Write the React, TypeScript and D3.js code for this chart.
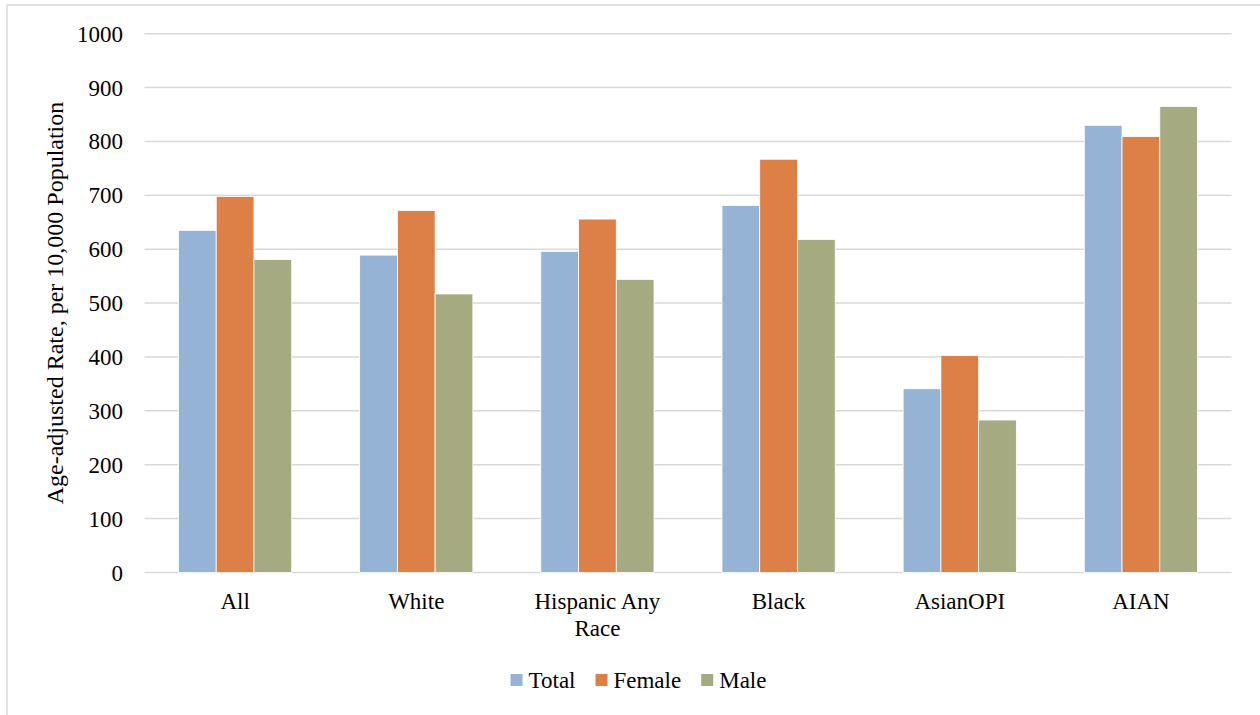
import React, { useEffect, useRef } from "react";
import * as d3 from "d3";

const categories = ["All", "White", "Hispanic Any Race", "Black", "AsianOPI", "AIAN"];
const seriesNames = ["Total", "Female", "Male"];
const totalValues = [635, 589, 596, 681, 341, 830];
const femaleValues = [698, 672, 656, 767, 403, 809];
const maleValues = [581, 517, 544, 618, 283, 865];
const yTicks = [0, 100, 200, 300, 400, 500, 600, 700, 800, 900, 1000];
const colors = ["#95B3D4", "#DD8047", "#A5AA80"];
const yTitle = "Age-adjusted Rate, per 10,000 Population";

const W = 1260;
const H = 715;
const FONT = "'Liberation Serif', 'Times New Roman', serif";

export default function App() {
  const ref = useRef<SVGSVGElement | null>(null);

  useEffect(() => {
    const svg = d3.select(ref.current);
    svg.selectAll("*").remove();

    const left = 144.5, right = 1231.5, top = 33.7, bottom = 572.5;
    const seriesValues = [totalValues, femaleValues, maleValues];

    // outer frame
    svg.append("rect")
      .attr("x", 7).attr("y", 5).attr("width", W + 20).attr("height", H + 20)
      .attr("fill", "white").attr("stroke", "#d9d9d9").attr("stroke-width", 1.5);

    const y = d3.scaleLinear().domain([0, 1000]).range([bottom, top]);
    const x0 = d3.scaleBand<string>().domain(categories).range([left, right]).padding(0);
    const groupW = x0.bandwidth() * 0.625;
    const x1 = d3.scaleBand<string>().domain(seriesNames).range([0, groupW]).padding(0);

    // gridlines
    svg.append("g").selectAll("line").data(yTicks).join("line")
      .attr("x1", left).attr("x2", right)
      .attr("y1", (d) => y(d)).attr("y2", (d) => y(d))
      .attr("stroke", "#d9d9d9").attr("stroke-width", 1.5);

    // tick labels
    svg.append("g").selectAll("text").data(yTicks).join("text")
      .attr("x", 123).attr("y", (d) => y(d) + 8)
      .attr("text-anchor", "end")
      .attr("font-family", FONT).attr("font-size", 23).attr("fill", "#000")
      .text((d) => String(d));

    // bars
    const gBars = svg.append("g");
    categories.forEach((c, ci) => {
      const gx = (x0(c) as number) + (x0.bandwidth() - groupW) / 2;
      seriesNames.forEach((s, si) => {
        const v = seriesValues[si][ci];
        gBars.append("rect")
          .attr("x", gx + (x1(s) as number))
          .attr("y", y(v))
          .attr("width", x1.bandwidth())
          .attr("height", y(0) - y(v))
          .attr("fill", colors[si])
          .attr("stroke", "#ffffff").attr("stroke-width", 0.8);
      });
    });

    // category labels with wrapping
    const maxW = x0.bandwidth() * 0.85;
    const gCat = svg.append("g");
    categories.forEach((c) => {
      const cx = (x0(c) as number) + x0.bandwidth() / 2;
      const t = gCat.append("text")
        .attr("x", cx).attr("y", 609)
        .attr("text-anchor", "middle")
        .attr("font-family", FONT).attr("font-size", 23).attr("fill", "#000");
      const words = c.split(" ");
      let line: string[] = [];
      let lineNo = 0;
      let tspan = t.append("tspan").attr("x", cx).attr("dy", 0);
      words.forEach((w) => {
        line.push(w);
        tspan.text(line.join(" "));
        const node = tspan.node() as SVGTextContentElement;
        if (node.getComputedTextLength() > maxW && line.length > 1) {
          line.pop();
          tspan.text(line.join(" "));
          line = [w];
          lineNo++;
          tspan = t.append("tspan").attr("x", cx).attr("dy", 27).text(w);
        }
      });
    });

    // y title
    svg.append("text")
      .attr("transform", `translate(63, 303) rotate(-90)`)
      .attr("text-anchor", "middle")
      .attr("font-family", FONT).attr("font-size", 24).attr("fill", "#000")
      .text(yTitle);

    // legend
    const gLeg = svg.append("g");
    const sq = 12, gapText = 6, gapItem = 20;
    const items = seriesNames.map((s, i) => {
      const g = gLeg.append("g");
      g.append("rect").attr("x", 0).attr("y", -sq / 2).attr("width", sq).attr("height", sq).attr("fill", colors[i]);
      const tx = g.append("text").attr("x", sq + gapText).attr("y", 8)
        .attr("font-family", FONT).attr("font-size", 23).attr("fill", "#000").text(s);
      const w = (tx.node() as SVGTextContentElement).getComputedTextLength();
      return { g, w: sq + gapText + w };
    });
    const totalW = items.reduce((a, b) => a + b.w, 0) + gapItem * (items.length - 1);
    let cur = 638.5 - totalW / 2;
    items.forEach((it) => {
      it.g.attr("transform", `translate(${cur}, 680)`);
      cur += it.w + gapItem;
    });
  }, []);

  return (
    <svg
      ref={ref}
      width={W}
      height={H}
      style={{ position: "absolute", left: 0, top: 0, background: "#fff" }}
    />
  );
}
